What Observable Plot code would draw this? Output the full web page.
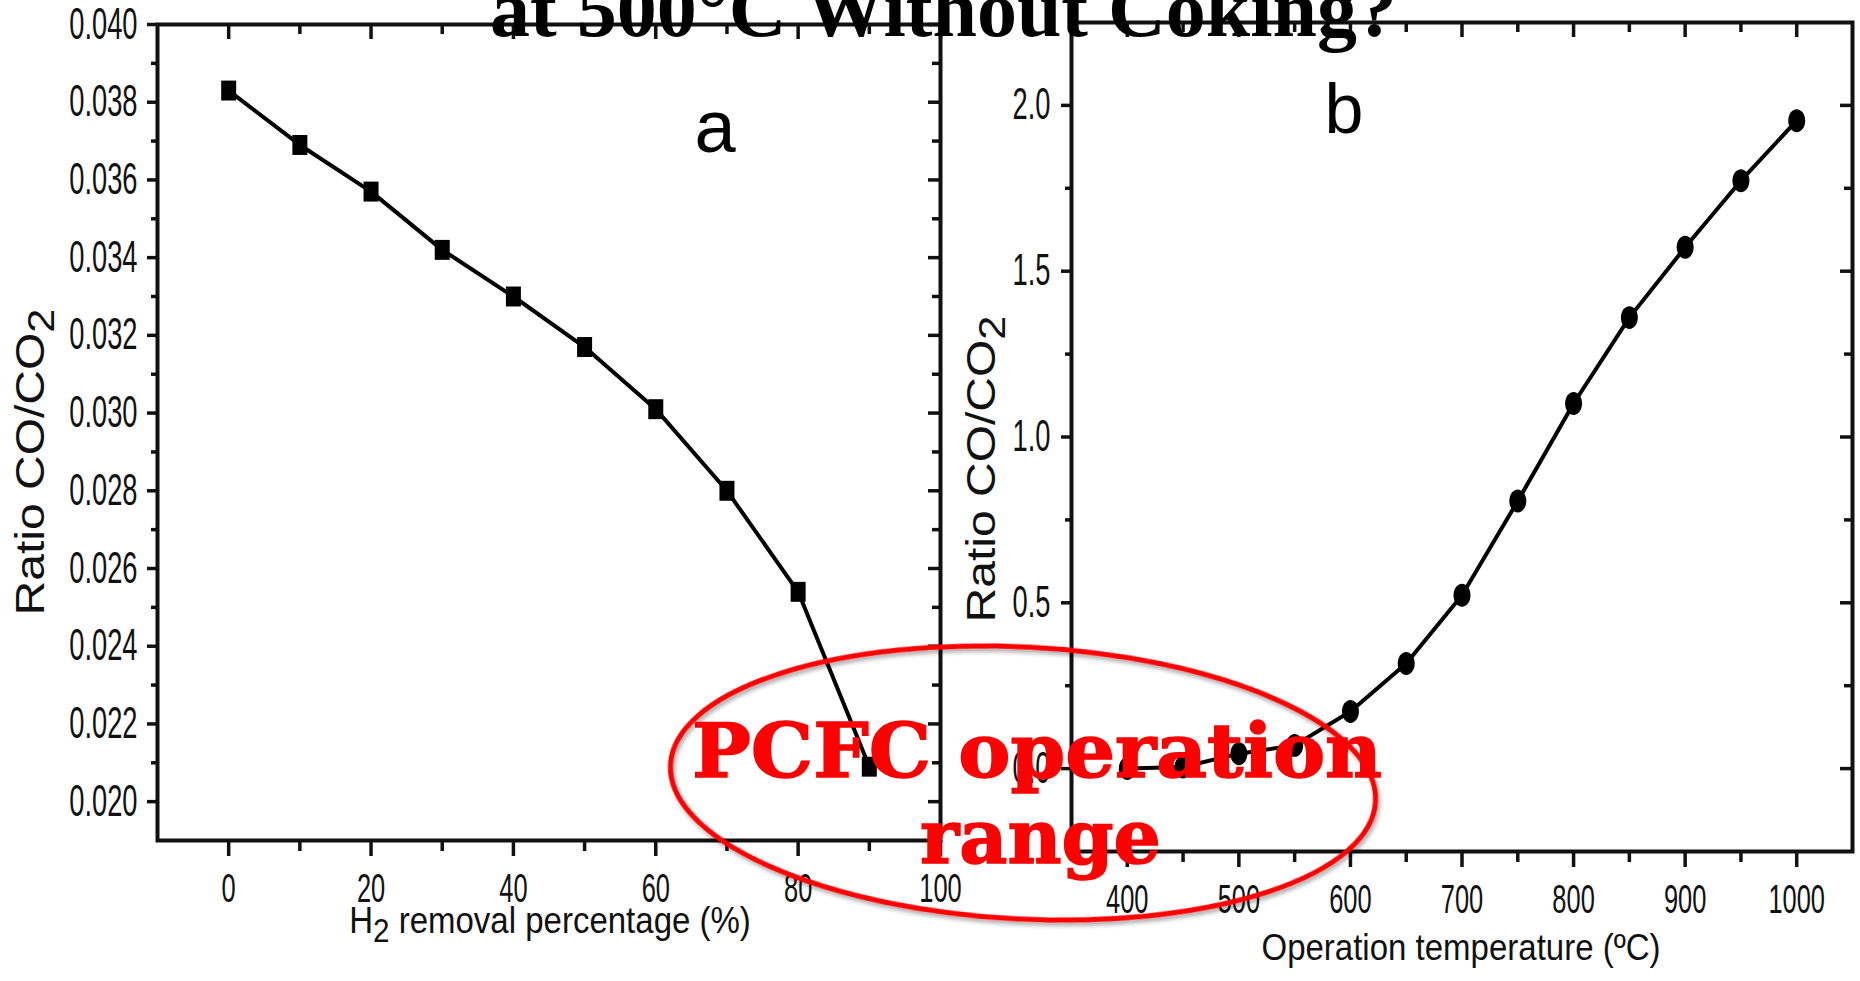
<!DOCTYPE html>
<html>
<head>
<meta charset="utf-8">
<script src="https://cdn.jsdelivr.net/npm/d3@7"></script>
<script src="https://cdn.jsdelivr.net/npm/@observablehq/plot@0.6"></script>
<style>
  html, body { margin: 0; padding: 0; background: #fff; }
  body { position: relative; width: 1860px; height: 981px; overflow: hidden; font-family: "Liberation Sans", Arial, sans-serif; }
  .panel { position: absolute; top: 0; }
  #panelA { left: 0; }
  #panelB { left: 950px; }
  .ttl { position: absolute; white-space: nowrap; color: #111; line-height: 1; }
  .ylab { font-size: 40px; transform: translate(-50%, -50%) rotate(-90deg) scaleX(1.2); }
  .xlab { font-size: 33px; transform-origin: 50% 0; transform: translate(-50%, 0) scaleY(1.12); }
  .sub { position: relative; top: 0.28em; font-size: 0.9em; }
  #overlay { position: absolute; left: 0; top: 0; }
</style>
</head>
<body>
<div id="panelA" class="panel"></div>
<div id="panelB" class="panel"></div>

<div class="ttl ylab" style="left:30px; top:462px;">Ratio CO/CO<span class="sub">2</span></div>
<div class="ttl xlab" style="left:550px; top:902px;">H<span class="sub">2</span> removal percentage (%)</div>
<div class="ttl ylab" style="left:981px; top:469px;">Ratio CO/CO<span class="sub">2</span></div>
<div class="ttl xlab" style="left:1461px; top:929px;">Operation temperature (ºC)</div>

<svg id="overlay" width="1860" height="981" xmlns="http://www.w3.org/2000/svg">
  <defs>
    <filter id="softShadow" x="-10%" y="-10%" width="120%" height="130%">
      <feDropShadow dx="2" dy="3" stdDeviation="2" flood-color="#000" flood-opacity="0.35"/>
    </filter>
  </defs>
  <text x="490" y="36" font-family="'Liberation Serif', 'Times New Roman', serif" font-weight="bold" font-size="80" fill="#000">at 500°C Without Coking?</text>
  <text x="715" y="152" text-anchor="middle" font-family="'Liberation Sans', Arial, sans-serif" font-size="74" fill="#000">a</text>
  <text x="1344" y="133" text-anchor="middle" font-family="'Liberation Sans', Arial, sans-serif" font-size="70" fill="#000">b</text>
  <ellipse cx="1023" cy="783" rx="353" ry="136" transform="rotate(3 1023 783)" fill="none" stroke="#ff0000" stroke-width="5" filter="url(#softShadow)"/>
  <text x="692" y="777" textLength="690" lengthAdjust="spacingAndGlyphs" font-family="'DejaVu Serif', serif" font-weight="bold" font-size="75" fill="#ff0000" stroke="#ff0000" stroke-width="1.5">PCFC operation</text>
  <text x="920" y="863" textLength="241" lengthAdjust="spacingAndGlyphs" font-family="'DejaVu Serif', serif" font-weight="bold" font-size="75" fill="#ff0000" stroke="#ff0000" stroke-width="1.5">range</text>
</svg>

<script>
// (a) CO/CO2 ratio versus H2 removal percentage
const removalPct = [0, 10, 20, 30, 40, 50, 60, 70, 80, 90];
const ratioA = [0.0383, 0.0369, 0.0357, 0.0342, 0.0330, 0.0317, 0.0301, 0.0280, 0.0254, 0.0209];

// (b) CO/CO2 ratio versus operation temperature (°C)
const temperatureC = [400, 450, 500, 550, 600, 650, 700, 750, 800, 850, 900, 950, 1000];
const ratioB = [0.0, 0.005, 0.045, 0.07, 0.172, 0.317, 0.523, 0.807, 1.101, 1.360, 1.572, 1.773, 1.954];

// Tick values
const aMajorX = [0, 20, 40, 60, 80, 100];
const aMinorX = [10, 30, 50, 70, 90];
const aMajorY = [0.020, 0.022, 0.024, 0.026, 0.028, 0.030, 0.032, 0.034, 0.036, 0.038, 0.040];
const aMinorY = [0.021, 0.023, 0.025, 0.027, 0.029, 0.031, 0.033, 0.035, 0.037, 0.039];
const bMajorX = [400, 500, 600, 700, 800, 900, 1000];
const bMinorX = [450, 550, 650, 750, 850, 950];
const bMajorY = [0, 0.5, 1.0, 1.5, 2.0];
const bMinorY = [0.25, 0.75, 1.25, 1.75];

const tickFont = '"Liberation Sans", Arial, sans-serif';

// Markers drawn a little taller than wide, like the rest of the figure
const tallSquare = {
  draw(ctx, size) {
    const r = Math.sqrt(size / Math.PI), w = r, h = r * 1.33;
    ctx.moveTo(-w, -h); ctx.lineTo(w, -h); ctx.lineTo(w, h); ctx.lineTo(-w, h); ctx.closePath();
  }
};
const tallCircle = {
  draw(ctx, size) {
    const r = Math.sqrt(size / Math.PI), rx = r, ry = r * 1.35, k = 0.5523;
    ctx.moveTo(rx, 0);
    ctx.bezierCurveTo(rx, ry * k, rx * k, ry, 0, ry);
    ctx.bezierCurveTo(-rx * k, ry, -rx, ry * k, -rx, 0);
    ctx.bezierCurveTo(-rx, -ry * k, -rx * k, -ry, 0, -ry);
    ctx.bezierCurveTo(rx * k, -ry, rx, -ry * k, rx, 0);
    ctx.closePath();
  }
};

function panel(cfg) {
  const fw = cfg.width - cfg.marginLeft - cfg.marginRight;
  const fh = cfg.height - cfg.marginTop - cfg.marginBottom;
  const pts = cfg.xs.map((x, i) => ({x, y: cfg.ys[i]}));
  const blank = () => "";
  return Plot.plot({
    width: cfg.width,
    height: cfg.height,
    marginLeft: cfg.marginLeft,
    marginRight: cfg.marginRight,
    marginTop: cfg.marginTop,
    marginBottom: cfg.marginBottom,
    x: {domain: cfg.xDomain},
    y: {domain: cfg.yDomain},
    style: {fontFamily: tickFont, background: "transparent", overflow: "visible", color: "#111"},
    marks: [
      // outward ticks with labels on the bottom and left
      Plot.axisX({ticks: cfg.xMajor, tickSize: 16, tickPadding: cfg.xPad, tickFormat: d => String(d), fontSize: 41, strokeWidth: 3.5, label: null}),
      Plot.axisX({ticks: cfg.xMinor, tickSize: 11, tickFormat: blank, strokeWidth: 3.5, label: null}),
      Plot.axisY({ticks: cfg.yMajor, tickSize: 10, tickPadding: cfg.yPad, tickFormat: cfg.yFormat, fontSize: 44, strokeWidth: 3.5, label: null}),
      Plot.axisY({ticks: cfg.yMinor, tickSize: 6, tickFormat: blank, strokeWidth: 3.5, label: null}),
      // inward mirror ticks on the top and right
      Plot.tickX(cfg.xMajor, {x: d => d, insetBottom: fh - 15, strokeWidth: 3.5}),
      Plot.tickX(cfg.xMinor, {x: d => d, insetBottom: fh - 10, strokeWidth: 3.5}),
      Plot.tickY(cfg.yMajor, {y: d => d, insetLeft: fw - 12, strokeWidth: 3.5}),
      Plot.tickY(cfg.yMinor, {y: d => d, insetLeft: fw - 8, strokeWidth: 3.5}),
      Plot.frame({strokeWidth: 4}),
      Plot.line(pts, {x: "x", y: "y", stroke: "#000", strokeWidth: 4}),
      Plot.dot(pts, {x: "x", y: "y", symbol: cfg.symbol, r: cfg.r, fill: "#000", stroke: "none"})
    ]
  });
}

// Narrow the tick labels horizontally (condensed lettering)
function condenseTickLabels(svg, k) {
  svg.querySelectorAll('g[aria-label$="tick label"] text').forEach(t => {
    const len = t.getComputedTextLength();
    if (len > 0) {
      t.setAttribute("textLength", (len * k).toFixed(2));
      t.setAttribute("lengthAdjust", "spacingAndGlyphs");
    }
  });
}

const svgA = panel({
  width: 950, height: 981,
  marginLeft: 157, marginRight: 10, marginTop: 24, marginBottom: 141,
  xDomain: [-10, 100], yDomain: [0.019, 0.040],
  xs: removalPct, ys: ratioA,
  xMajor: aMajorX, xMinor: aMinorX, yMajor: aMajorY, yMinor: aMinorY,
  yFormat: d3.format(".3f"), xPad: 16, yPad: 10,
  symbol: tallSquare, r: 7.5
});
document.getElementById("panelA").append(svgA);
condenseTickLabels(svgA, 0.62);

const svgB = panel({
  width: 910, height: 981,
  marginLeft: 121, marginRight: 8, marginTop: 22, marginBottom: 130,
  xDomain: [350, 1050], yDomain: [-0.25, 2.25],
  xs: temperatureC, ys: ratioB,
  xMajor: bMajorX, xMinor: bMinorX, yMajor: bMajorY, yMinor: bMinorY,
  yFormat: d3.format(".1f"), xPad: 16, yPad: 11,
  symbol: tallCircle, r: 8.5
});
document.getElementById("panelB").append(svgB);
condenseTickLabels(svgB, 0.62);
</script>
</body>
</html>
